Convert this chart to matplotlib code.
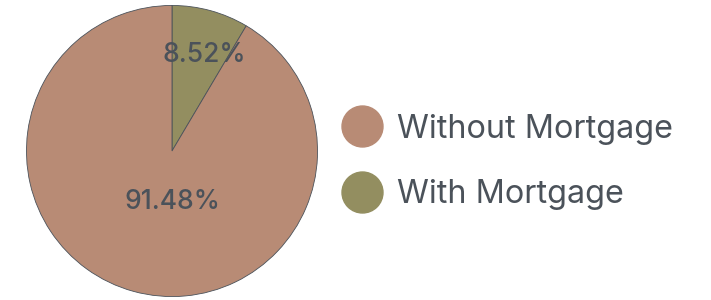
import matplotlib
matplotlib.use("Agg")
import matplotlib.pyplot as plt
from matplotlib.lines import Line2D

labels = ["Without Mortgage", "With Mortgage"]
values = [91.48, 8.52]
colors = ["#b88b75", "#938e60"]
text_color = "#4b525a"

plt.rcParams['font.family'] = ['Inter', 'DejaVu Sans']

fig = plt.figure(figsize=(7.11, 3.0), dpi=100)
ax = fig.add_axes([25/711, 2/300, 294/711, 294/300])

# With Mortgage starts at top and goes clockwise
wedges, _ = ax.pie(values[::-1], colors=colors[::-1], startangle=90, counterclock=False,
                   radius=1, wedgeprops=dict(edgecolor=text_color, linewidth=0.6))
ax.set_xlim(-1.01, 1.01)
ax.set_ylim(-1.01, 1.01)
ax.set_aspect('equal')
ax.axis('off')

ax.text(0.224, 0.66, f"{values[1]:.2f}%", ha='center', va='center', fontsize=19,
        color=text_color, fontweight='medium')
ax.text(0.0, -0.347, f"{values[0]:.2f}%", ha='center', va='center', fontsize=19,
        color=text_color, fontweight='medium')

handles = [Line2D([0], [0], marker='o', linestyle='none', markersize=29.5,
                  markerfacecolor=c, markeredgecolor=c) for c in colors]
leg = fig.legend(handles, labels, loc='center left', bbox_to_anchor=(339/711, 138/300),
                 frameon=False, fontsize=23.3, labelcolor=text_color, handletextpad=0.4,
                 labelspacing=1.08, handlelength=1.4, borderaxespad=0, borderpad=0)

fig.savefig("out.png", dpi=100)
